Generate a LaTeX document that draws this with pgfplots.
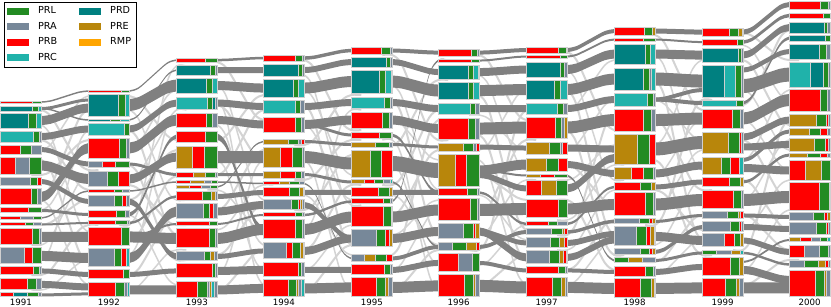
\documentclass[border=0pt]{standalone}
\usepackage{fontspec}
\setmainfont{DejaVu Sans}
\usepackage{pgfplots}
\pgfplotsset{compat=1.18}
\definecolor{prl}{HTML}{228B22}
\definecolor{pra}{HTML}{778899}
\definecolor{prb}{HTML}{FF0000}
\definecolor{prc}{HTML}{20B2AA}
\definecolor{prd}{HTML}{008080}
\definecolor{pre}{HTML}{B8860B}
\definecolor{rmp}{HTML}{FFA500}
\definecolor{dflow}{HTML}{808080}
\definecolor{lflow}{HTML}{D3D3D3}
\definecolor{edge}{HTML}{D0D0D0}
\newcommand\SetCol[1]{\def\CL{#1}}
\newcommand\bx[2]{\def\yt{#1}\def\yb{#2}}
\newcommand\sg[3]{\pgfmathsetmacro\qxa{\CL+#2}\pgfmathsetmacro\qxb{\CL+#3}%
 \edef\tmp{\noexpand\addplot[forget plot,fill=#1,draw=edge,line width=1bp] coordinates {(\qxa,\yt) (\qxb,\yt) (\qxb,\yb) (\qxa,\yb)} --cycle;}\tmp}
\newcommand\SetGap[2]{\def\GA{#1}\def\GB{#2}}
% geometry of one connector between the two columns of the current gap
\newcommand\prepF[2]{%
 \pgfmathsetmacro\qg{\GB-\GA}%
 \pgfmathsetmacro\qxa{\GA-10}\pgfmathsetmacro\qxb{\GA}\pgfmathsetmacro\qxc{\GA+0.2*\qg}%
 \pgfmathsetmacro\qxm{\GA+0.5*\qg}\pgfmathsetmacro\qxe{\GA+0.8*\qg}\pgfmathsetmacro\qxf{\GB}\pgfmathsetmacro\qxg{\GB+10}%
 \pgfmathsetmacro\qd{#2-#1}%
 \pgfmathsetmacro\qyc{#1+0.104*\qd}\pgfmathsetmacro\qym{#1+0.5*\qd}\pgfmathsetmacro\qye{#1+0.896*\qd}}
\newcommand\F[4][dflow]{\prepF{#2}{#3}%
 \pgfmathsetmacro\qh{#4/2}%
 \pgfmathsetmacro\qta{#2-\qh}\pgfmathsetmacro\qtc{\qyc-\qh}\pgfmathsetmacro\qtm{\qym-\qh}\pgfmathsetmacro\qte{\qye-\qh}\pgfmathsetmacro\qtg{#3-\qh}%
 \pgfmathsetmacro\qba{#2+\qh}\pgfmathsetmacro\qbc{\qyc+\qh}\pgfmathsetmacro\qbm{\qym+\qh}\pgfmathsetmacro\qbe{\qye+\qh}\pgfmathsetmacro\qbg{#3+\qh}%
 \edef\tmp{\noexpand\addplot[forget plot,fill=#1,draw=none,smooth] coordinates {(\qxa,\qta) (\qxb,\qta) (\qxc,\qtc) (\qxm,\qtm) (\qxe,\qte) (\qxf,\qtg) (\qxg,\qtg) (\qxg,\qbg) (\qxf,\qbg) (\qxe,\qbe) (\qxm,\qbm) (\qxc,\qbc) (\qxb,\qba) (\qxa,\qba)} --cycle;}\tmp}
\newcommand\Lf[3]{\prepF{#1}{#2}%
 \edef\tmp{\noexpand\addplot[forget plot,draw=lflow,line width=#3bp,smooth] coordinates {(\qxa,#1) (\qxb,#1) (\qxc,\qyc) (\qxm,\qym) (\qxe,\qye) (\qxf,#2) (\qxg,#2)};}\tmp}
\begin{document}
\begin{tikzpicture}
\begin{axis}[scale only axis, width=831bp, height=298bp,
 xmin=0, xmax=831, ymin=0, ymax=298, y dir=reverse, clip=false,
 axis line style={draw=none}, ytick=\empty,
 xtick={20.5,108.5,196.5,283.5,371.5,458.5,546.5,634.5,722.5,809.5},
 xticklabels={1991,1992,1993,1994,1995,1996,1997,1998,1999,2000},
 major tick length=0pt,
 xticklabel style={font=\fontsize{8.7}{10}\selectfont, inner sep=1bp},
 legend image code/.code={\fill[#1] (0bp,-3.5bp) rectangle (22bp,3.5bp); \path (29bp,0bp);},
 legend columns=2, legend cell align=left,
 legend style={at={(0.004,0.995)}, anchor=north west, draw=black, line width=0.6pt,
  font=\fontsize{9.7}{11}\selectfont, inner xsep=3bp, inner ysep=3bp, row sep=3bp,
  /tikz/every even column/.append style={column sep=20bp}},
]
\addlegendimage{fill=prl,draw=none}\addlegendentry{PRL}
\addlegendimage{fill=prd,draw=none}\addlegendentry{PRD}
\addlegendimage{fill=pra,draw=none}\addlegendentry{PRA}
\addlegendimage{fill=pre,draw=none}\addlegendentry{PRE}
\addlegendimage{fill=prb,draw=none}\addlegendentry{PRB}
\addlegendimage{fill=rmp,draw=none}\addlegendentry{RMP}
\addlegendimage{fill=prc,draw=none}\addlegendentry{PRC}
% ---------- flows ----------
\SetGap{41}{88}
\Lf{110}{170}{2}\Lf{125}{232}{1.5}\Lf{150}{96}{1.5}\Lf{160}{262}{2}\Lf{175}{140}{2}\Lf{195}{110}{2}\Lf{210}{150}{1.5}
\Lf{225}{200}{2}\Lf{245}{175}{1.5}\Lf{260}{130}{1.5}\Lf{275}{225}{2}\Lf{290}{260}{1.5}\Lf{200}{285}{1.5}\Lf{140}{190}{2}
\F{102}{91}{1.5}\F{108.5}{100}{3}\F{108.5}{120}{1.5}\F{120.5}{108}{9}\F{136.5}{129}{7}\F{149.5}{164}{5}\F{165.5}{179}{10}
\F{181.5}{201.5}{5}\F{197}{148}{10}\F{210.5}{214.5}{3}\F{218}{191}{1.5}\F{224.5}{223}{2}\F{237}{237}{10}\F{256}{258}{10}
\F{271}{274.5}{5}\F{284.5}{287}{7}\F{295}{294}{3}
\SetGap{129}{176}
\Lf{96}{140}{2}\Lf{110}{200}{1.5}\Lf{130}{235}{2}\Lf{150}{90}{1.5}\Lf{165}{260}{2}\Lf{180}{120}{1.5}\Lf{200}{150}{2}
\Lf{215}{285}{1.5}\Lf{240}{176}{2}\Lf{255}{110}{1.5}\Lf{275}{215}{2}\Lf{290}{250}{1.5}\Lf{225}{66}{1.5}\Lf{185}{225}{2}
\F{91}{60}{1.5}\F{105}{85.5}{12}\F{120}{70}{1.5}\F{129}{103}{7}\F{148}{120}{11}\F{164}{174.5}{3}\F{179}{157}{9}
\F{191}{182}{1.5}\F{201.5}{256.5}{6}\F{214.5}{136.5}{4}\F{223}{196.5}{2.5}\F{237}{238.5}{11}\F{258}{211.5}{10}
\F{237}{224}{2}\F{274.5}{271}{5}\F{290}{290}{9}
\SetGap{217}{263}
\Lf{62}{120}{2}\Lf{85}{200}{1.5}\Lf{105}{160}{2}\Lf{125}{245}{1.5}\Lf{140}{95}{2}\Lf{160}{270}{1.5}\Lf{175}{110}{2}
\Lf{190}{230}{1.5}\Lf{210}{150}{2}\Lf{230}{185}{1.5}\Lf{255}{205}{2}\Lf{275}{160}{1.5}\Lf{290}{250}{2}\Lf{100}{285}{1.5}
\F{60}{58}{2.5}\F{70}{70}{6}\F{85.5}{88}{9}\F{103}{106.5}{7}\F{120}{124.5}{8}\F{136.5}{229.5}{6}\F{157}{157}{12}
\F{174.5}{174.5}{3}\F{182}{183.5}{1.5}\F{187}{141.5}{1.5}\F{196.5}{192.5}{5}\F{211.5}{205}{8}\F{224}{215}{2}
\F{238.5}{229.5}{11}\F{256.5}{251}{5}\F{271}{270}{8}\F{290}{288.5}{9}
\SetGap{304}{351}
\Lf{60}{130}{2}\Lf{90}{175}{1.5}\Lf{105}{245}{2}\Lf{125}{200}{1.5}\Lf{145}{95}{2}\Lf{160}{290}{1.5}\Lf{180}{140}{2}
\Lf{195}{255}{1.5}\Lf{210}{155}{2}\Lf{230}{110}{1.5}\Lf{250}{185}{2}\Lf{270}{225}{1.5}\Lf{290}{245}{2}\Lf{75}{205}{1.5}
\F{58}{50.5}{3.5}\F{70}{62}{6}\F{88}{81.5}{11}\F{106.5}{102.5}{7}\F{124.5}{120}{9}\F{124.5}{135}{3}\F{141.5}{144.5}{3}
\F{157}{163.5}{12}\F{174.5}{182}{3}\F{183.5}{258.5}{1.5}\F{192.5}{192.5}{5}\F{205}{238.5}{6}\F{215}{201.5}{2.5}
\F{229.5}{217}{11}\F{251}{238.5}{8}\F{270}{270}{6}\F{288.5}{287.5}{10}
\SetGap{392}{438}
\Lf{55}{140}{2}\Lf{85}{190}{1.5}\Lf{100}{235}{2}\Lf{120}{160}{1.5}\Lf{145}{80}{2}\Lf{165}{265}{1.5}\Lf{185}{110}{2}
\Lf{195}{245}{1.5}\Lf{215}{150}{2}\Lf{235}{200}{1.5}\Lf{255}{120}{2}\Lf{270}{210}{1.5}\Lf{290}{250}{2}\Lf{140}{290}{1.5}
\F{50.5}{52.5}{4}\F{62}{72}{6}\F{81.5}{90.5}{12}\F{102.5}{108.5}{7}\F{120}{128.5}{9}\F{135}{192.5}{3}\F{144.5}{147}{3}
\F{163.5}{170.5}{15}\F{182}{247}{2}\F{192.5}{192.5}{5}\F{201.5}{60.5}{2}\F{217}{210}{11}\F{238.5}{231.5}{9}
\F{258.5}{247}{4}\F{270}{263}{6}\F{287.5}{286}{11}
\SetGap{479}{526}
\Lf{55}{120}{2}\Lf{75}{170}{1.5}\Lf{95}{230}{2}\Lf{115}{150}{1.5}\Lf{135}{260}{2}\Lf{150}{90}{1.5}\Lf{175}{200}{2}
\Lf{195}{240}{1.5}\Lf{215}{140}{2}\Lf{235}{180}{1.5}\Lf{250}{110}{2}\Lf{265}{225}{1.5}\Lf{285}{255}{2}\Lf{160}{285}{1.5}
\F{52.5}{50}{4}\F{60.5}{56.5}{2}\F{72}{69.5}{8}\F{90.5}{89.5}{11}\F{108.5}{108.5}{7}\F{128.5}{127.5}{12}\F{147}{148}{5}
\F{170.5}{164.5}{10}\F{175}{188.5}{6}\F{170}{175.5}{2}\F{192.5}{224}{2.5}\F{210}{209}{12}\F{231.5}{257.5}{8}
\F{231.5}{243}{5}\F{247}{232}{4}\F{263}{270.5}{4}\F{286}{287.5}{12}
\SetGap{567}{614}
\Lf{52}{130}{2}\Lf{70}{180}{1.5}\Lf{90}{235}{2}\Lf{110}{60}{1.5}\Lf{130}{255}{2}\Lf{150}{100}{1.5}\Lf{165}{205}{2}
\Lf{180}{145}{1.5}\Lf{200}{270}{2}\Lf{220}{165}{1.5}\Lf{235}{115}{2}\Lf{250}{190}{1.5}\Lf{270}{220}{2}\Lf{285}{240}{1.5}
\F{50}{31}{4}\F{56.5}{39.5}{2}\F{69.5}{54}{9}\F{89.5}{79}{11}\F{108.5}{99.5}{7}\F{127.5}{120}{12}\F{148}{149}{7}
\F{164.5}{173.5}{7}\F{175.5}{260.5}{2}\F{188.5}{158}{8}\F{209}{204.5}{11}\F{224}{187}{2.5}\F{232}{221.5}{3.5}
\F{243}{234}{6}\F{257.5}{240}{7}\F{270.5}{272}{4}\F{287.5}{288.5}{11}
\SetGap{655}{702}
\Lf{35}{110}{2}\Lf{55}{170}{1.5}\Lf{80}{240}{2}\Lf{100}{140}{1.5}\Lf{120}{190}{2}\Lf{145}{60}{1.5}\Lf{160}{255}{2}
\Lf{175}{120}{1.5}\Lf{190}{230}{2}\Lf{210}{150}{1.5}\Lf{225}{100}{2}\Lf{245}{180}{1.5}\Lf{262}{215}{2}\Lf{275}{240}{1.5}
\F{31}{32}{5}\F{39.5}{42}{2}\F{54}{55}{9}\F{79}{81}{13}\F{99.5}{90}{4}\F{99.5}{103}{4}\F{120}{118.5}{12}\F{149}{142.5}{13}
\F{173.5}{165.5}{8}\F{187}{182}{5}\F{204.5}{200}{12}\F{221.5}{215.5}{3}\F{236.5}{240.5}{9}\F{252}{227}{4}
\F{260.5}{253}{3}\F{272}{267}{6}\F{288.5}{288}{11}
\SetGap{743}{789}
\Lf{33}{60}{2}\Lf{45}{100}{1.5}\Lf{60}{125}{2}\Lf{90}{150}{1.5}\Lf{105}{30}{2}\Lf{120}{170}{1.5}\Lf{140}{200}{2}
\Lf{160}{90}{1.5}\Lf{180}{230}{2}\Lf{200}{140}{1.5}\Lf{215}{250}{2}\Lf{230}{180}{1.5}\Lf{250}{120}{2}\Lf{270}{210}{1.5}\Lf{285}{260}{2}
\F{32}{4.5}{5}\F{42}{15.5}{3.5}\F{55}{27.5}{7}\F{70}{51.5}{5}\F{86}{74.5}{14}\F{103}{38}{3}\F{118.5}{100}{12}
\F{137}{120}{7}\F{147}{144.5}{7}\F{160}{131.5}{4}\F{168}{170.5}{8}\F{182}{155}{3}\F{200}{197}{12}\F{215.5}{217}{4}
\F{227}{229}{6}\F{240.5}{252}{6}\F{253}{264.5}{2.5}\F{262}{240}{2}\F{270}{280}{8}\F{288}{288}{11}
% ---------- boxes ----------
\SetCol{0}
\bx{101}{103.5}\sg{prb}{0}{32}\sg{prl}{32}{41}
\bx{106}{111}\sg{prd}{0}{32}\sg{prl}{32}{38}\sg{prc}{38}{41}
\bx{113}{128}\sg{prd}{0}{28}\sg{prl}{28}{36}\sg{prc}{36}{41}
\bx{131}{142}\sg{prc}{0}{33}\sg{prl}{33}{39}\sg{pra}{39}{41}
\bx{145}{154}\sg{prb}{0}{20}\sg{prl}{20}{31}\sg{pra}{31}{41}
\bx{157}{174}\sg{prb}{0}{15}\sg{pra}{15}{29}\sg{prl}{29}{41}
\bx{177}{186}\sg{pra}{0}{30}\sg{prl}{30}{37}\sg{prb}{37}{41}
\bx{189}{205}\sg{prb}{0}{31}\sg{prl}{31}{37}\sg{pra}{37}{41}
\bx{208}{213}\sg{prb}{0}{28}\sg{prl}{28}{41}
\bx{217}{219.5}\sg{prb}{0}{20}\sg{pra}{20}{33}\sg{prl}{33}{41}
\bx{223}{226}\sg{prb}{0}{25}\sg{prl}{25}{33}\sg{pra}{33}{41}
\bx{229}{245}\sg{prb}{0}{32}\sg{prl}{32}{39}\sg{pra}{39}{41}
\bx{248}{264}\sg{pra}{0}{24}\sg{prb}{24}{32}\sg{prl}{32}{41}
\bx{267}{275}\sg{prb}{0}{33}\sg{prl}{33}{39}\sg{pra}{39}{41}
\bx{279}{290}\sg{prb}{0}{27}\sg{prl}{27}{36}\sg{pra}{36}{41}
\bx{293}{297}\sg{prb}{0}{13}\sg{prd}{13}{27}\sg{prl}{27}{38}\sg{pra}{38}{41}
\SetCol{88}
\bx{90}{92.5}\sg{prb}{0}{33}\sg{prl}{33}{41}
\bx{94}{116}\sg{prd}{0}{30}\sg{prl}{30}{37}\sg{prc}{37}{41}
\bx{119}{121.5}\sg{prd}{0}{22}\sg{prl}{22}{32}\sg{prc}{32}{41}
\bx{123}{135}\sg{prc}{0}{36}\sg{prl}{36}{41}
\bx{138}{158}\sg{prb}{0}{31}\sg{prl}{31}{38}\sg{pra}{38}{41}
\bx{161}{167}\sg{pra}{0}{14}\sg{prb}{14}{27}\sg{prl}{27}{41}
\bx{171}{187}\sg{pra}{0}{19}\sg{prl}{19}{30}\sg{prb}{30}{41}
\bx{190}{192.5}\sg{prb}{0}{26}\sg{prl}{26}{34}\sg{pra}{34}{41}
\bx{196}{207}\sg{pra}{0}{26}\sg{prl}{26}{34}\sg{prb}{34}{38}\sg{pra}{38}{41}
\bx{211}{218}\sg{prb}{0}{28}\sg{prl}{28}{37}\sg{pra}{37}{41}
\bx{221}{225}\sg{prb}{0}{27}\sg{prl}{27}{39}\sg{pra}{39}{41}
\bx{228}{246}\sg{prb}{0}{33}\sg{prl}{33}{41}
\bx{249}{267}\sg{pra}{0}{26}\sg{prl}{26}{33}\sg{prb}{33}{38}\sg{prc}{38}{41}
\bx{270}{279}\sg{prb}{0}{35}\sg{prl}{35}{41}
\bx{283}{297}\sg{prb}{0}{27}\sg{prl}{27}{36}\sg{pra}{36}{39}\sg{prc}{39}{41}
\SetCol{176}
\bx{58}{62}\sg{prb}{0}{29}\sg{prl}{29}{41}
\bx{65}{75}\sg{prd}{0}{34}\sg{prl}{34}{39}\sg{pra}{39}{41}
\bx{78}{93}\sg{prd}{0}{30}\sg{prl}{30}{36}\sg{prc}{36}{41}
\bx{97}{109}\sg{prc}{0}{31}\sg{prl}{31}{36}\sg{prd}{36}{39}\sg{pra}{39}{41}
\bx{113}{127}\sg{prb}{0}{30}\sg{prl}{30}{36}\sg{pra}{36}{41}
\bx{131}{142}\sg{prb}{0}{29}\sg{prl}{29}{41}
\bx{146}{168}\sg{pre}{0}{16}\sg{prb}{16}{28}\sg{prl}{28}{41}
\bx{172}{177}\sg{prb}{0}{17}\sg{pre}{17}{29}\sg{prl}{29}{39}\sg{pra}{39}{41}
\bx{181}{183.5}\sg{prb}{0}{14}\sg{pre}{14}{28}\sg{pra}{28}{35}\sg{prl}{35}{41}
\bx{186}{188.5}\sg{pre}{0}{13}\sg{prb}{13}{25}\sg{pra}{25}{34}\sg{prl}{34}{41}
\bx{192}{201}\sg{prb}{0}{26}\sg{prl}{26}{35}\sg{pre}{35}{39}\sg{pra}{39}{41}
\bx{204}{219}\sg{pra}{0}{27}\sg{prl}{27}{33}\sg{prb}{33}{37}\sg{pra}{37}{41}
\bx{222}{226}\sg{prb}{0}{33}\sg{prl}{33}{41}
\bx{229}{248}\sg{prb}{0}{33}\sg{prl}{33}{39}\sg{pra}{39}{41}
\bx{252}{261}\sg{pra}{0}{28}\sg{prl}{28}{34}\sg{pre}{34}{38}\sg{pra}{38}{41}
\bx{264}{278}\sg{prb}{0}{36}\sg{prl}{36}{39}\sg{pra}{39}{41}
\bx{282}{298}\sg{prb}{0}{21}\sg{prl}{21}{31}\sg{pra}{31}{33}\sg{pre}{33}{35}\sg{prc}{35}{38}\sg{pra}{38}{41}
\SetCol{263}
\bx{55}{61}\sg{prb}{0}{32}\sg{prl}{32}{39}\sg{pra}{39}{41}
\bx{64}{76}\sg{prd}{0}{35}\sg{prl}{35}{39}\sg{pra}{39}{41}
\bx{79}{97}\sg{prd}{0}{30}\sg{prl}{30}{35}\sg{prc}{35}{41}
\bx{100}{113}\sg{prc}{0}{32}\sg{prl}{32}{37}\sg{pra}{37}{41}
\bx{117}{132}\sg{prb}{0}{32}\sg{prl}{32}{38}\sg{pra}{38}{41}
\bx{139}{144}\sg{pre}{0}{25}\sg{prl}{25}{35}\sg{pra}{35}{38}\sg{prb}{38}{41}
\bx{147}{167}\sg{pre}{0}{17}\sg{prb}{17}{29}\sg{prl}{29}{39}\sg{pra}{39}{41}
\bx{171}{178}\sg{pre}{0}{17}\sg{prb}{17}{32}\sg{prl}{32}{38}\sg{pra}{38}{41}
\bx{182}{185}\sg{prb}{0}{16}\sg{pre}{16}{26}\sg{prl}{26}{36}\sg{pra}{36}{41}
\bx{188}{197}\sg{prb}{0}{26}\sg{prl}{26}{36}\sg{pre}{36}{40}\sg{pra}{40}{41}
\bx{200}{210}\sg{pra}{0}{28}\sg{prl}{28}{35}\sg{prb}{35}{37}\sg{pre}{37}{39}\sg{pra}{39}{41}
\bx{213}{217}\sg{prb}{0}{32}\sg{prl}{32}{39}\sg{pra}{39}{41}
\bx{220}{239}\sg{prb}{0}{32}\sg{prl}{32}{39}\sg{pra}{39}{41}
\bx{243}{259}\sg{pra}{0}{23}\sg{prb}{23}{29}\sg{prl}{29}{37}\sg{pre}{37}{40}\sg{pra}{40}{41}
\bx{263}{277}\sg{prb}{0}{35}\sg{prl}{35}{38}\sg{pra}{38}{41}
\bx{280}{297}\sg{prb}{0}{25}\sg{prl}{25}{33}\sg{pre}{33}{35}\sg{pra}{35}{38}\sg{prc}{38}{41}
\SetCol{351}
\bx{47}{54}\sg{prb}{0}{30}\sg{prl}{30}{39}\sg{pra}{39}{41}
\bx{57}{67}\sg{prd}{0}{35}\sg{prl}{35}{39}\sg{pra}{39}{41}
\bx{70}{93}\sg{prd}{0}{28}\sg{prl}{28}{34}\sg{prc}{34}{40}\sg{pra}{40}{41}
\bx{97}{108}\sg{prc}{0}{33}\sg{prl}{33}{39}\sg{pra}{39}{41}
\bx{112}{128}\sg{prb}{0}{31}\sg{prl}{31}{38}\sg{pra}{38}{41}
\bx{132}{138}\sg{prb}{0}{28}\sg{prl}{28}{40}\sg{pra}{40}{41}
\bx{142}{147}\sg{pre}{0}{24}\sg{prl}{24}{38}\sg{pra}{38}{41}
\bx{150}{177}\sg{pre}{0}{19}\sg{prl}{19}{30}\sg{prb}{30}{41}
\bx{180}{184}\sg{pre}{0}{13}\sg{prb}{13}{23}\sg{prl}{23}{32}\sg{pra}{32}{39}\sg{prc}{39}{41}
\bx{188}{197}\sg{prb}{0}{27}\sg{prl}{27}{38}\sg{pre}{38}{41}
\bx{199}{204}\sg{prb}{0}{32}\sg{prl}{32}{39}\sg{pra}{39}{41}
\bx{207}{227}\sg{prb}{0}{32}\sg{prl}{32}{40}\sg{pra}{40}{41}
\bx{230}{247}\sg{pra}{0}{25}\sg{prl}{25}{34}\sg{prb}{34}{38}\sg{pre}{38}{41}
\bx{255}{262}\sg{pra}{0}{13}\sg{pre}{13}{24}\sg{prl}{24}{35}\sg{prb}{35}{41}
\bx{265}{275}\sg{prb}{0}{33}\sg{prl}{33}{39}\sg{pra}{39}{41}
\bx{278}{297}\sg{prb}{0}{25}\sg{prl}{25}{34}\sg{pre}{34}{37}\sg{pra}{37}{41}
\SetCol{438}
\bx{49}{56}\sg{prb}{0}{33}\sg{prl}{33}{39}\sg{pra}{39}{41}
\bx{59}{62}\sg{prb}{0}{33}\sg{prl}{33}{41}
\bx{65}{79}\sg{prd}{0}{30}\sg{prl}{30}{35}\sg{prc}{35}{40}\sg{pra}{40}{41}
\bx{82}{99}\sg{prd}{0}{30}\sg{prl}{30}{35}\sg{prc}{35}{41}
\bx{103}{114}\sg{prc}{0}{32}\sg{prl}{32}{37}\sg{pra}{37}{41}
\bx{118}{139}\sg{prb}{0}{30}\sg{prl}{30}{37}\sg{pra}{37}{41}
\bx{143}{151}\sg{pre}{0}{25}\sg{prl}{25}{35}\sg{pra}{35}{38}\sg{prb}{38}{41}
\bx{154}{187}\sg{pre}{0}{17}\sg{prb}{17}{28}\sg{prl}{28}{41}
\bx{189}{196}\sg{prb}{0}{29}\sg{prl}{29}{39}\sg{pra}{39}{41}
\bx{199}{221}\sg{prb}{0}{32}\sg{prl}{32}{39}\sg{pra}{39}{41}
\bx{224}{239}\sg{pra}{0}{25}\sg{prl}{25}{35}\sg{prb}{35}{37}\sg{pre}{37}{41}
\bx{243}{251}\sg{pra}{0}{14}\sg{prl}{14}{28}\sg{pre}{28}{38}\sg{prb}{38}{41}
\bx{254}{272}\sg{prb}{0}{20}\sg{pra}{20}{34}\sg{prl}{34}{41}
\bx{275}{297}\sg{prb}{0}{26}\sg{prl}{26}{35}\sg{pre}{35}{37}\sg{pra}{37}{41}
\SetCol{526}
\bx{47}{53}\sg{prb}{0}{32}\sg{prl}{32}{40}\sg{pra}{40}{41}
\bx{55}{58}\sg{prb}{0}{34}\sg{prl}{34}{41}
\bx{62}{77}\sg{prd}{0}{34}\sg{prl}{34}{38}\sg{pra}{38}{41}
\bx{80}{99}\sg{prd}{0}{28}\sg{prl}{28}{34}\sg{prc}{34}{41}
\bx{103}{114}\sg{prc}{0}{31}\sg{prl}{31}{37}\sg{pra}{37}{41}
\bx{117}{138}\sg{prb}{0}{29}\sg{prl}{29}{35}\sg{pra}{35}{38}\sg{pre}{38}{41}
\bx{142}{154}\sg{pre}{0}{23}\sg{prl}{23}{34}\sg{pra}{34}{36}\sg{prb}{36}{41}
\bx{158}{171}\sg{pre}{0}{20}\sg{prl}{20}{32}\sg{prb}{32}{41}
\bx{174}{177.5}\sg{pre}{0}{14}\sg{prb}{14}{28}\sg{prl}{28}{41}
\bx{181}{196}\sg{prb}{0}{15}\sg{pre}{15}{30}\sg{prl}{30}{41}
\bx{200}{218}\sg{prb}{0}{32}\sg{prl}{32}{41}
\bx{222}{226}\sg{prb}{0}{22}\sg{prl}{22}{31}\sg{pra}{31}{41}
\bx{229}{235}\sg{pra}{0}{25}\sg{prl}{25}{36}\sg{pre}{36}{38}\sg{prb}{38}{41}
\bx{238}{248}\sg{pra}{0}{24}\sg{prl}{24}{33}\sg{pre}{33}{38}\sg{prb}{38}{41}
\bx{251}{264}\sg{pra}{0}{23}\sg{prl}{23}{33}\sg{pre}{33}{37}\sg{prb}{37}{40}\sg{pra}{40}{41}
\bx{267}{274}\sg{prb}{0}{32}\sg{prl}{32}{39}\sg{pra}{39}{41}
\bx{278}{297}\sg{prb}{0}{26}\sg{prl}{26}{35}\sg{pre}{35}{39}\sg{pra}{39}{41}
\SetCol{614}
\bx{27}{35}\sg{prb}{0}{30}\sg{prl}{30}{38}\sg{pre}{38}{41}
\bx{38}{41.5}\sg{prb}{0}{29}\sg{prl}{29}{41}
\bx{44}{64}\sg{prd}{0}{31}\sg{prl}{31}{36}\sg{prc}{36}{41}
\bx{68}{90}\sg{prd}{0}{29}\sg{prl}{29}{35}\sg{pra}{35}{37}\sg{prc}{37}{41}
\bx{93}{106}\sg{prc}{0}{33}\sg{prl}{33}{39}\sg{pra}{39}{41}
\bx{109}{131}\sg{prb}{0}{29}\sg{prl}{29}{37}\sg{pra}{37}{41}
\bx{134}{164}\sg{pre}{0}{23}\sg{prl}{23}{35}\sg{prb}{35}{41}
\bx{167}{180}\sg{pre}{0}{17}\sg{prb}{17}{29}\sg{prl}{29}{39}\sg{pra}{39}{41}
\bx{183}{191}\sg{prb}{0}{26}\sg{prl}{26}{37}\sg{pre}{37}{41}
\bx{193}{216}\sg{prb}{0}{31}\sg{prl}{31}{39}\sg{pra}{39}{41}
\bx{219}{224}\sg{pra}{0}{25}\sg{prl}{25}{35}\sg{prb}{35}{38}\sg{pre}{38}{41}
\bx{227}{246}\sg{pra}{0}{22}\sg{prl}{22}{32}\sg{prb}{32}{36}\sg{pre}{36}{40}\sg{pra}{40}{41}
\bx{249}{255}\sg{pra}{0}{26}\sg{prl}{26}{35}\sg{prb}{35}{38}\sg{pre}{38}{41}
\bx{258}{263}\sg{prl}{0}{14}\sg{pre}{14}{28}\sg{pra}{28}{41}
\bx{267}{277}\sg{prb}{0}{31}\sg{prl}{31}{39}\sg{pra}{39}{41}
\bx{279}{298}\sg{prb}{0}{26}\sg{prl}{26}{37}\sg{pre}{37}{40}\sg{pra}{40}{41}
\SetCol{702}
\bx{28}{36}\sg{prb}{0}{27}\sg{prl}{27}{36}\sg{pre}{36}{40}\sg{pra}{40}{41}
\bx{39}{45}\sg{prb}{0}{35}\sg{prl}{35}{41}
\bx{48}{62}\sg{prd}{0}{36}\sg{prl}{36}{39}\sg{pra}{39}{41}
\bx{65}{97}\sg{prd}{0}{22}\sg{prc}{22}{33}\sg{prl}{33}{39}\sg{pra}{39}{41}
\bx{100}{106}\sg{prc}{0}{34}\sg{prl}{34}{41}
\bx{109}{128}\sg{prb}{0}{30}\sg{prl}{30}{38}\sg{pra}{38}{41}
\bx{132}{153}\sg{pre}{0}{26}\sg{prl}{26}{37}\sg{prb}{37}{39}\sg{pra}{39}{41}
\bx{157}{174}\sg{pre}{0}{19}\sg{prl}{19}{28}\sg{prb}{28}{37}\sg{prc}{37}{41}
\bx{177}{187}\sg{prb}{0}{27}\sg{prl}{27}{38}\sg{pre}{38}{41}
\bx{191}{209}\sg{prb}{0}{31}\sg{prl}{31}{39}\sg{pra}{39}{41}
\bx{212}{219}\sg{pra}{0}{25}\sg{prl}{25}{36}\sg{pre}{36}{38}\sg{prb}{38}{41}
\bx{222}{232}\sg{pra}{0}{28}\sg{prl}{28}{37}\sg{prb}{37}{39}\sg{pra}{39}{41}
\bx{234}{247}\sg{pra}{0}{22}\sg{prb}{22}{32}\sg{prl}{32}{38}\sg{pre}{38}{41}
\bx{251}{255}\sg{prl}{0}{14}\sg{pra}{14}{29}\sg{pre}{29}{38}\sg{prc}{38}{41}
\bx{258}{276}\sg{prb}{0}{28}\sg{prl}{28}{37}\sg{pre}{37}{41}
\bx{279}{297}\sg{prb}{0}{23}\sg{prl}{23}{34}\sg{pre}{34}{37}\sg{pra}{37}{41}
\SetCol{789}
\bx{1}{9}\sg{prb}{0}{31}\sg{prl}{31}{39}\sg{pra}{39}{41}
\bx{13}{18}\sg{prb}{0}{34}\sg{prl}{34}{41}
\bx{22}{33}\sg{prd}{0}{35}\sg{prl}{35}{38}\sg{pra}{38}{41}
\bx{35}{41}\sg{prd}{0}{36}\sg{prl}{36}{41}
\bx{44}{59}\sg{prd}{0}{30}\sg{prl}{30}{37}\sg{pra}{37}{41}
\bx{62}{87}\sg{prc}{0}{21}\sg{prd}{21}{34}\sg{prl}{34}{39}\sg{pra}{39}{41}
\bx{89}{111}\sg{prb}{0}{31}\sg{prl}{31}{38}\sg{pra}{38}{41}
\bx{114}{126}\sg{pre}{0}{27}\sg{prl}{27}{37}\sg{prb}{37}{39}\sg{pra}{39}{41}
\bx{128}{135}\sg{pre}{0}{20}\sg{prl}{20}{31}\sg{prb}{31}{38}\sg{pra}{38}{41}
\bx{138}{151}\sg{pre}{0}{25}\sg{prl}{25}{36}\sg{prb}{36}{39}\sg{pra}{39}{41}
\bx{153}{157}\sg{pre}{0}{18}\sg{prl}{18}{31}\sg{prb}{31}{38}\sg{pra}{38}{41}
\bx{160}{181}\sg{prb}{0}{16}\sg{pre}{16}{32}\sg{prl}{32}{41}
\bx{183}{211}\sg{prb}{0}{30}\sg{prl}{30}{40}\sg{pra}{40}{41}
\bx{213}{221}\sg{pra}{0}{24}\sg{prl}{24}{35}\sg{prb}{35}{38}\sg{pre}{38}{41}
\bx{223}{235}\sg{pra}{0}{27}\sg{prl}{27}{37}\sg{prb}{37}{39}\sg{pra}{39}{41}
\bx{238}{242}\sg{pre}{0}{11}\sg{prb}{11}{22}\sg{pra}{22}{31}\sg{prl}{31}{38}\sg{prc}{38}{41}
\bx{246}{258}\sg{prb}{0}{15}\sg{pra}{15}{30}\sg{prl}{30}{39}\sg{pra}{39}{41}
\bx{261}{268}\sg{pra}{0}{15}\sg{prl}{15}{29}\sg{pre}{29}{36}\sg{prb}{36}{39}\sg{pra}{39}{41}
\bx{271}{297}\sg{prb}{0}{26}\sg{prl}{26}{35}\sg{pre}{35}{37}\sg{pra}{37}{41}
\end{axis}
\end{tikzpicture}
\end{document}
